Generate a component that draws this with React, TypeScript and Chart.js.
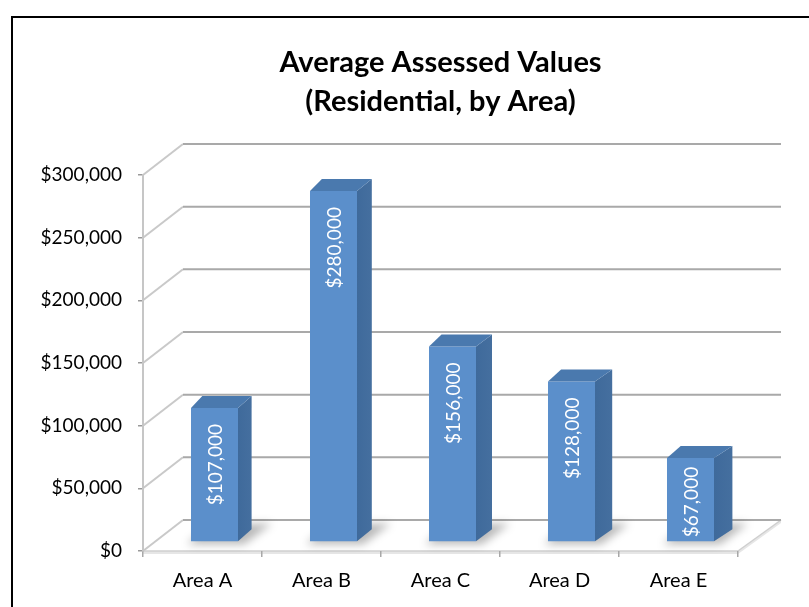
import React, { useEffect, useRef } from "react";
import { Chart, registerables } from "chart.js";

Chart.register(...registerables);

const categories = ["Area A", "Area B", "Area C", "Area D", "Area E"];
const values = [107000, 280000, 156000, 128000, 67000];
const titleLines = ["Average Assessed Values", "(Residential, by Area)"];
const yMin = 0;
const yMax = 300000;
const yStep = 50000;

const FONT = "Lato, 'Open Sans', sans-serif";
const fmt = (v: number) => "$" + v.toLocaleString("en-US");

// 3D styling offsets
const WALL_DX_L = 40;
const WALL_DX_R = 43;
const WALL_DY = -31;
const BAR_DX = 12;
const BAR_DY = -9;

const threeD = {
  id: "threeD",
  beforeDraw(chart: any) {
    const { ctx, chartArea: a, scales } = chart;
    const ys = scales.y;
    ctx.save();
    ctx.fillStyle = "#ffffff";
    ctx.fillRect(0, 0, chart.width, chart.height);
    // outer frame
    ctx.strokeStyle = "#000000";
    ctx.lineWidth = 2;
    ctx.strokeRect(12, 17, chart.width + 40, chart.height + 40);

    const line = (x1: number, y1: number, x2: number, y2: number) => {
      ctx.beginPath();
      ctx.moveTo(x1, y1);
      ctx.lineTo(x2, y2);
      ctx.stroke();
    };
    const y0 = ys.getPixelForValue(yMin);
    // floor slab
    ctx.fillStyle = "#e6e6e6";
    ctx.beginPath();
    ctx.moveTo(a.left, y0);
    ctx.lineTo(a.right, y0);
    ctx.lineTo(a.right + WALL_DX_R, y0 + WALL_DY);
    ctx.lineTo(a.right + WALL_DX_R, y0 + WALL_DY + 3);
    ctx.lineTo(a.right, y0 + 3);
    ctx.lineTo(a.left, y0 + 3);
    ctx.closePath();
    ctx.fill();
    ctx.strokeStyle = "#cfcfcf";
    ctx.lineWidth = 1.5;
    line(a.left, y0, a.right, y0);
    line(a.right, y0, a.right + WALL_DX_R, y0 + WALL_DY);

    ys.ticks.forEach((t: any) => {
      const py = ys.getPixelForValue(t.value);
      ctx.strokeStyle = "#c9c9c9";
      ctx.lineWidth = 2;
      line(a.left, py, a.left + WALL_DX_L, py + WALL_DY);
      ctx.strokeStyle = "#a9a9a9";
      ctx.lineWidth = 2;
      line(a.left + WALL_DX_L, py + WALL_DY, a.right + WALL_DX_R, py + WALL_DY);
    });
    ctx.restore();
  },
  beforeDatasetsDraw(chart: any) {
    const { ctx } = chart;
    const meta = chart.getDatasetMeta(0);
    ctx.save();
    // soft floor shadows
    meta.data.forEach((el: any) => {
      const w = el.width;
      const xl = el.x - w / 2 + BAR_DX;
      const xr = el.x + w / 2 + BAR_DX;
      const b = el.base + BAR_DY;
      ctx.save();
      ctx.filter = "blur(4px)";
      ctx.fillStyle = "rgba(0,0,0,0.28)";
      ctx.beginPath();
      ctx.moveTo(xl - 4, b + 3);
      ctx.lineTo(xr + 6, b + 3);
      ctx.lineTo(xr + 34, b - 18);
      ctx.lineTo(xl + 18, b - 16);
      ctx.closePath();
      ctx.fill();
      ctx.restore();
    });
    ctx.restore();
    ctx.save();
    ctx.translate(BAR_DX, BAR_DY);
  },
  afterDatasetsDraw(chart: any) {
    const { ctx, chartArea: a } = chart;
    ctx.restore();
    const meta = chart.getDatasetMeta(0);
    ctx.save();
    meta.data.forEach((el: any, i: number) => {
      const w = el.width;
      const xl = el.x - w / 2 + BAR_DX;
      const xr = el.x + w / 2 + BAR_DX;
      const top = el.y + BAR_DY;
      const bot = el.base + BAR_DY;
      const frac = (el.x - a.left) / (a.right - a.left);
      const dxL = 11 + frac * 3;
      const dxR = 13 + frac * 6;
      const dy = -12;
      // side face
      const sg = ctx.createLinearGradient(xr, 0, xr + dxR, 0);
      sg.addColorStop(0, "#3f6a9b");
      sg.addColorStop(1, "#456f9f");
      ctx.fillStyle = sg;
      ctx.beginPath();
      ctx.moveTo(xr, top);
      ctx.lineTo(xr + dxR, top + dy);
      ctx.lineTo(xr + dxR, bot + dy);
      ctx.lineTo(xr, bot);
      ctx.closePath();
      ctx.fill();
      // top face
      ctx.fillStyle = "#4a79ae";
      ctx.beginPath();
      ctx.moveTo(xl, top);
      ctx.lineTo(xr, top);
      ctx.lineTo(xr + dxR, top + dy);
      ctx.lineTo(xl + dxL, top + dy);
      ctx.closePath();
      ctx.fill();
      // label
      const text = fmt(values[i]);
      ctx.font = `19px ${FONT}`;
      const len = ctx.measureText(text).width;
      const start = Math.min(top + 16, bot - 4 - len);
      ctx.save();
      ctx.translate((xl + xr) / 2, start);
      ctx.rotate(-Math.PI / 2);
      ctx.fillStyle = "#ffffff";
      ctx.textAlign = "right";
      ctx.textBaseline = "middle";
      ctx.fillText(text, 0, 1);
      ctx.restore();
    });
    ctx.restore();
  },
};

export default function App() {
  const ref = useRef<HTMLCanvasElement | null>(null);
  useEffect(() => {
    if (!ref.current) return;
    const chart = new Chart(ref.current, {
      type: "bar",
      data: {
        labels: categories,
        datasets: [
          {
            data: values,
            backgroundColor: "#5b8fcb",
            borderWidth: 0,
            barPercentage: 0.395,
            categoryPercentage: 1,
            clip: false as any,
          },
        ],
      },
      options: {
        animation: false,
        responsive: false,
        layout: { padding: { left: 38, right: 71, top: 0, bottom: 18 } },
        plugins: {
          legend: { display: false },
          tooltip: { enabled: false },
          title: {
            display: true,
            text: titleLines,
            fullSize: false,
            color: "#000000",
            font: { family: FONT, size: 29, weight: "bold", lineHeight: 39 / 29 },
            padding: { top: 43, bottom: 54 },
          },
        },
        scales: {
          x: {
            afterFit: (s: any) => {
              s.height = 38;
            },
            grid: {
              display: true,
              drawOnChartArea: false,
              drawTicks: true,
              tickLength: 6,
              color: "#a8a8a8",
              lineWidth: 1.5,
            },
            border: { display: false },
            ticks: { color: "#000000", padding: 12, font: { family: FONT, size: 20 } },
          },
          y: {
            min: yMin,
            max: yMax,
            afterFit: (s: any) => {
              s.width = 105;
            },
            grid: {
              display: true,
              drawOnChartArea: false,
              drawTicks: true,
              tickLength: 5,
              color: "#9a9a9a",
              lineWidth: 1.5,
            },
            border: { display: true, color: "#c6c6c6", width: 2 },
            ticks: {
              stepSize: yStep,
              color: "#000000",
              padding: 16,
              font: { family: FONT, size: 19 },
              callback: (v: any) => fmt(Number(v)),
            },
          },
        },
      },
      plugins: [threeD],
    });
    return () => chart.destroy();
  }, []);
  return (
    <div style={{ position: "fixed", left: 0, top: 0, width: 809, height: 607, background: "#fff" }}>
      <canvas ref={ref} width={809} height={607} style={{ display: "block" }} />
    </div>
  );
}
